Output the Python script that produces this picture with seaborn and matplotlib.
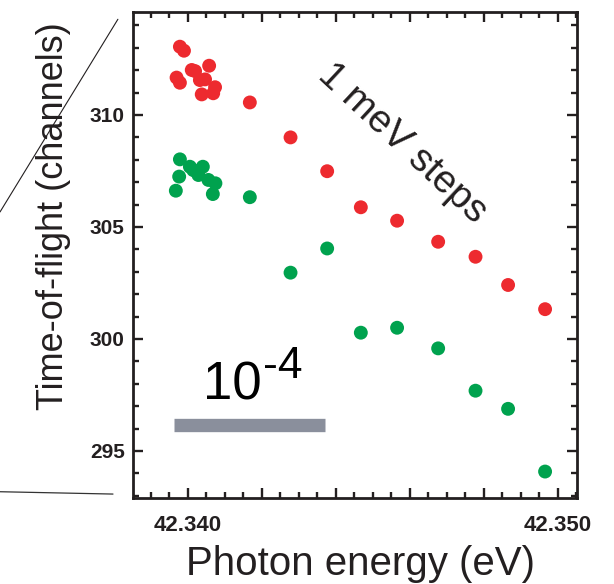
import numpy as np
import pandas as pd
import matplotlib
matplotlib.use("Agg")
import matplotlib.pyplot as plt
import seaborn as sns
from matplotlib.ticker import FixedLocator, MultipleLocator, FuncFormatter
from matplotlib.lines import Line2D

# --- data ---
red_energy = [42.33979, 42.33990, 42.33970, 42.33979, 42.34011, 42.34020, 42.34058,
              42.34047, 42.34033, 42.34038, 42.34074, 42.34069,
              42.34168, 42.34278, 42.34377, 42.34468, 42.34566, 42.34677,
              42.34778, 42.34866, 42.34966]
red_tof = [313.05, 312.87, 311.67, 311.44, 312.01, 311.96, 312.20,
           311.59, 311.56, 310.92, 311.24, 310.97,
           310.56, 309.00, 307.49, 305.88, 305.28, 304.34,
           303.67, 302.41, 301.33]

green_energy = [42.33979, 42.33977, 42.33968, 42.34006, 42.34015, 42.34041, 42.34029,
                42.34056, 42.34075, 42.34068,
                42.34168, 42.34278, 42.34377, 42.34468, 42.34566, 42.34677,
                42.34778, 42.34866, 42.34966]
green_tof = [308.02, 307.25, 306.62, 307.69, 307.54, 307.69, 307.32,
             307.10, 306.95, 306.47,
             306.33, 302.96, 304.04, 300.28, 300.50, 299.58,
             297.69, 296.88, 294.08]

scale_bar_energy = [42.33964, 42.34370]
scale_bar_tof = [296.16, 296.16]

x_major = [42.340, 42.342, 42.344, 42.346, 42.348, 42.350]
x_labelled = [42.340, 42.350]
y_ticks = [295, 300, 305, 310]

df = pd.DataFrame({
    "energy": red_energy + green_energy,
    "tof": red_tof + green_tof,
    "series": ["red"] * len(red_energy) + ["green"] * len(green_energy),
})

sns.set_theme(style="ticks")
plt.rcParams["font.family"] = ["Liberation Sans", "DejaVu Sans"]
ink = "#231f20"

fig = plt.figure(figsize=(6.14, 5.84), dpi=100)
ax = fig.add_axes([0.2166, 0.1473, 0.7231, 0.8322])

sns.scatterplot(data=df, x="energy", y="tof", hue="series",
                palette={"red": "#ed2a2f", "green": "#00a24e"},
                s=100, linewidth=0, alpha=1, legend=False, ax=ax, zorder=3)

# scale bar
ax.plot(scale_bar_energy, scale_bar_tof, color="#8a8f9c", lw=9.6,
        solid_capstyle="butt", zorder=2)

ax.text(42.34041, 297.28, "10", fontsize=38, color="black", va="baseline", ha="left")
ax.text(42.34204, 298.26, "-4", fontsize=32, color="black", va="baseline", ha="left")

ax.text(42.34579, 308.75, "1 meV steps", fontsize=28, color=ink, rotation=-43,
        ha="center", va="center", rotation_mode="anchor")

ax.set_xlim(42.338522, 42.350522)
ax.set_ylim(292.9, 314.6)

ax.xaxis.set_major_locator(FixedLocator(x_major))
ax.xaxis.set_minor_locator(MultipleLocator(0.0005))
ax.xaxis.set_major_formatter(FuncFormatter(
    lambda v, p: f"{v:.3f}" if any(abs(v - t) < 1e-6 for t in x_labelled) else ""))
ax.yaxis.set_major_locator(FixedLocator(y_ticks))
ax.yaxis.set_minor_locator(MultipleLocator(1))
ax.yaxis.set_major_formatter(FuncFormatter(lambda v, p: f"{v:.0f}"))

ax.tick_params(which="both", direction="in", top=True, right=True, width=1.7, color=ink)
ax.tick_params(which="major", length=7.5)
ax.tick_params(which="minor", length=4)
ax.tick_params(axis="x", which="major", pad=12, labelsize=16)
ax.tick_params(axis="y", which="major", pad=6, labelsize=15)
for lab in ax.get_xticklabels() + ax.get_yticklabels():
    lab.set_fontweight("bold")
    lab.set_color(ink)

for sp in ax.spines.values():
    sp.set_linewidth(2.0)
    sp.set_color(ink)

ax.set_xlabel("Photon energy (eV)", fontsize=29, color=ink)
ax.set_ylabel("Time-of-flight (channels)", fontsize=26, color=ink)
ax.xaxis.set_label_coords(0.5135, -0.097)
ax.yaxis.set_label_coords(-0.14, 0.58)

# guide lines outside the axes
fig.add_artist(Line2D([0.0, 0.192], [0.637, 0.967], color=ink, lw=0.8))
fig.add_artist(Line2D([0.0, 0.184], [0.158, 0.154], color="#333333", lw=0.9))

fig.savefig("out.png", dpi=100)
